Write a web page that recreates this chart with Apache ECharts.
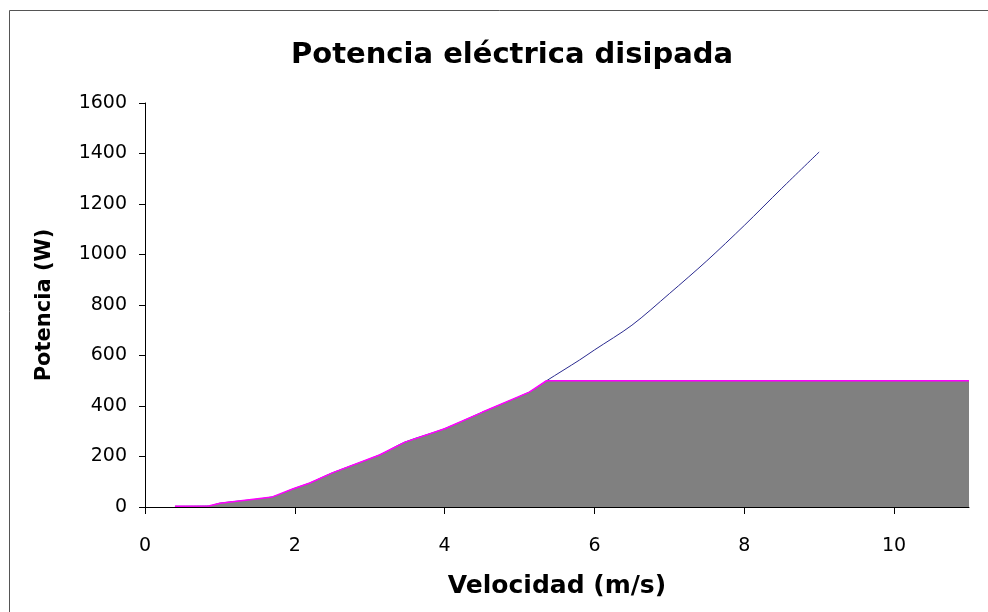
<!DOCTYPE html>
<html>
<head>
    <meta charset="utf-8">
    <title>Potencia eléctrica disipada</title>
    <script src="https://cdn.jsdelivr.net/npm/echarts@6/dist/echarts.min.js"></script>
    <style>
        html, body { margin: 0; padding: 0; background: #fff; }
    </style>
</head>
<body>
<div id="main" style="width: 988px;height:612px;"></div>
<script type="text/javascript">
    // velocidad (m/s) y potencia (W)
    var velocidad = [0.4, 0.85, 1.0, 1.7, 1.97, 2.2, 2.5, 3.13, 3.47, 4.0, 4.5, 5.13, 5.36, 5.8, 6.0, 6.5, 7.0, 7.5, 8.0, 8.5, 9.0];
    var potencia = [3, 4, 15, 40, 71, 95, 135, 206, 257, 310, 375, 455, 500, 582, 622, 720, 845, 975, 1115, 1262, 1406];
    // potencia disipada (limitada a 500 W)
    var velDisipada = [0.4, 0.85, 1.0, 1.7, 1.97, 2.2, 2.5, 3.13, 3.47, 4.0, 4.5, 5.13, 5.36, 11];
    var potDisipada = [3, 4, 15, 40, 71, 95, 135, 206, 257, 310, 375, 455, 500, 500];
    var xTicks = [0, 2, 4, 6, 8, 10];

    function pares(xs, ys) {
        var out = [];
        for (var i = 0; i < xs.length; i++) out.push([xs[i], ys[i]]);
        return out;
    }

    var myChart = echarts.init(document.getElementById('main'));
    var fuente = '"DejaVu Sans", Verdana, sans-serif';

    var option = {
        animation: false,
        backgroundColor: '#fff',
        title: {
            text: 'Potencia eléctrica disipada',
            left: 286,
            top: 36,
            textStyle: { fontFamily: fuente, fontSize: 29, fontWeight: 'bold', color: '#000' }
        },
        graphic: [{
            type: 'rect',
            shape: { x: 9.5, y: 10.5, width: 990, height: 610 },
            style: { fill: 'none', stroke: '#555', lineWidth: 1 },
            silent: true
        }],
        grid: { left: 145, right: 19, top: 103, bottom: 105 },
        xAxis: {
            type: 'value',
            min: 0,
            max: 11,
            interval: 2,
            name: 'Velocidad (m/s)',
            nameLocation: 'middle',
            nameGap: 67,
            nameTextStyle: { fontFamily: fuente, fontSize: 25, fontWeight: 'bold', color: '#000' },
            axisLine: { lineStyle: { color: '#000', width: 1 } },
            axisTick: { show: true, length: 7, lineStyle: { color: '#000' }, customValues: xTicks },
            axisLabel: { fontFamily: fuente, fontSize: 19, color: '#000', margin: 30, customValues: xTicks },
            splitLine: { show: false }
        },
        yAxis: {
            type: 'value',
            min: 0,
            max: 1600,
            interval: 200,
            name: 'Potencia (W)',
            nameLocation: 'middle',
            nameGap: 90,
            nameRotate: 90,
            nameTextStyle: { fontFamily: fuente, fontSize: 21, fontWeight: 'bold', color: '#000' },
            axisLine: { show: true, lineStyle: { color: '#000', width: 1 } },
            axisTick: { show: true, length: 6, lineStyle: { color: '#000' } },
            axisLabel: {
                fontFamily: fuente, fontSize: 19, color: '#000', margin: 18,
                formatter: function (v) { return String(v); }
            },
            splitLine: { show: false }
        },
        series: [{
            name: 'Potencia',
            type: 'line',
            data: pares(velocidad, potencia),
            symbol: 'none',
            smooth: 0.3,
            lineStyle: { color: '#2a2a8f', width: 1 },
            z: 2
        }, {
            name: 'Potencia disipada',
            type: 'line',
            data: pares(velDisipada, potDisipada),
            symbol: 'none',
            lineStyle: { color: '#ff00ff', width: 1.5 },
            areaStyle: { color: '#808080', opacity: 1 },
            z: 3
        }]
    };

    myChart.setOption(option);
</script>
</body>
</html>
